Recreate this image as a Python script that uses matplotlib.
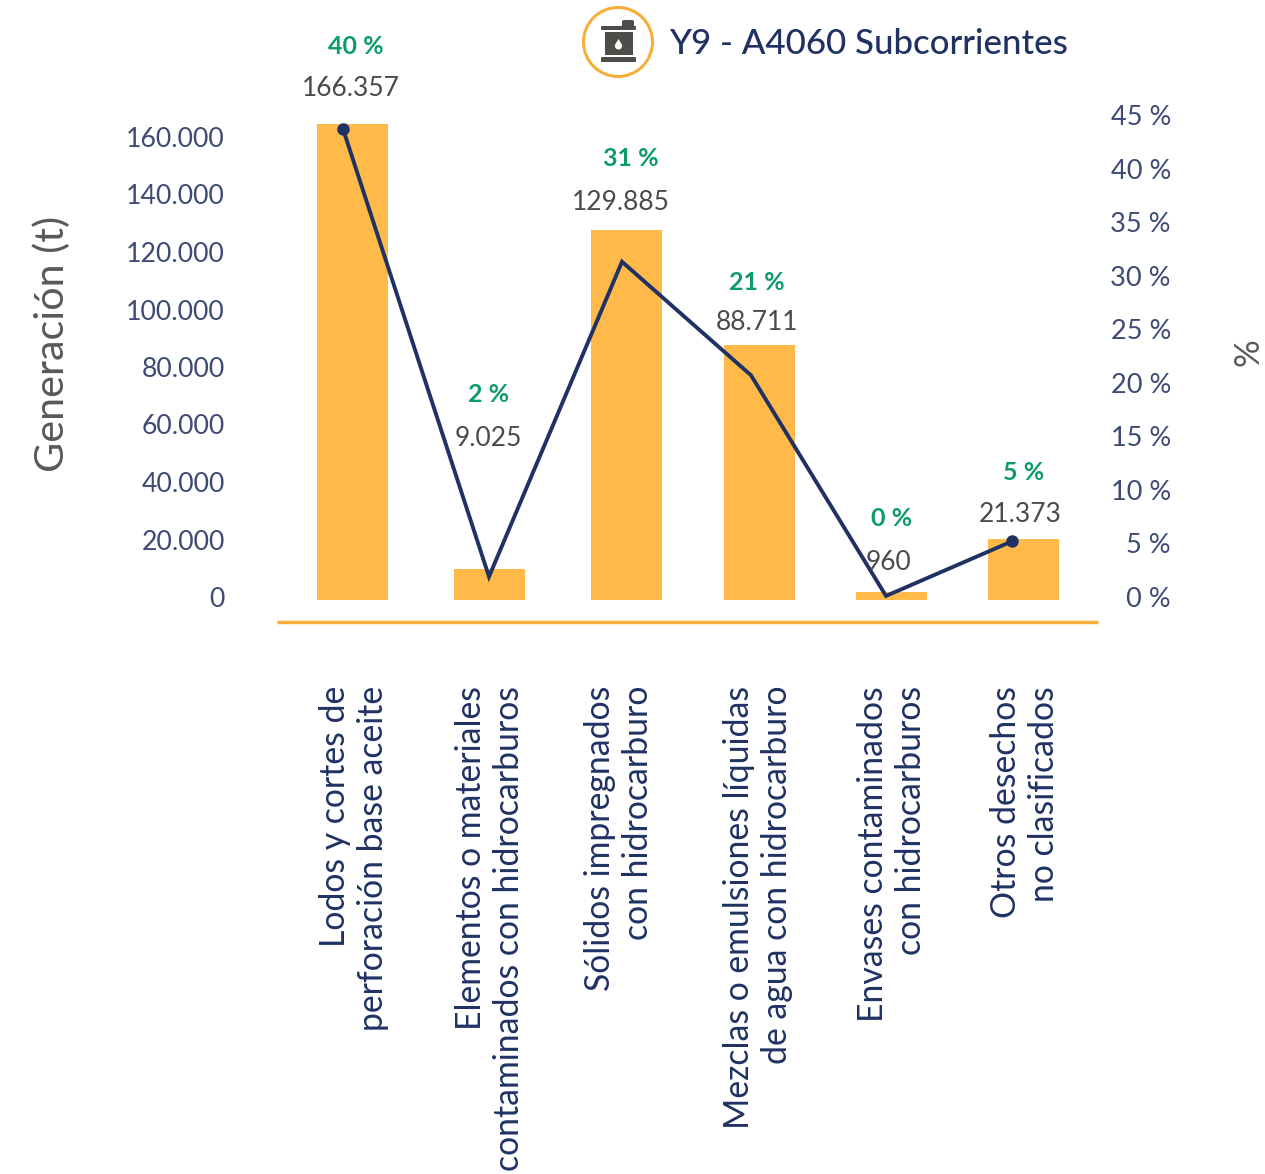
import matplotlib
matplotlib.use("Agg")
import matplotlib.pyplot as plt
from matplotlib.patches import Circle, Rectangle, FancyBboxPatch, Polygon

categories = ["Lodos y cortes de\nperforación base aceite",
              "Elementos o materiales\ncontaminados con hidrocarburos",
              "Sólidos impregnados\ncon hidrocarburo",
              "Mezclas o emulsiones líquidas\nde agua con hidrocarburo",
              "Envases contaminados\ncon hidrocarburos",
              "Otros desechos\nno clasificados"]
bar_values = [165700, 11100, 128700, 89000, 3100, 21373]
value_labels = ["166.357", "9.025", "129.885", "88.711", "960", "21.373"]
pct_labels = ["40 %", "2 %", "31 %", "21 %", "0 %", "5 %"]
line_pct = [43.7, 1.9, 31.3, 20.7, 0.1, 5.2]
left_ticks = [0, 20000, 40000, 60000, 80000, 100000, 120000, 140000, 160000]
left_tick_labels = ["0", "20.000", "40.000", "60.000", "80.000", "100.000", "120.000", "140.000", "160.000"]
right_ticks = [0, 5, 10, 15, 20, 25, 30, 35, 40, 45]
right_tick_labels = [f"{v} %" for v in right_ticks]

# layout (pixels)
W, H = 1265, 1174
bar_px = [352.5, 489.5, 626.5, 759.5, 891.5, 1023.5]
label_px = [354, 490, 619, 758, 892, 1025]
line_px = [343, 489, 622, 751, 886, 1012]
value_pos = [(351, 89), (488, 438), (621, 202), (757, 323), (888, 562), (1020, 514)]
pct_pos = [(356, 47), (489, 395), (631, 159), (757, 282), (892, 518), (1024, 473)]
AX_L, AX_R, AX_B, AX_T = 277, 1098, 622, 60
Y0 = 597
L_SCALE = 460 / 160000
R_SCALE = 482 / 45
BASE = -1200

NAVY = "#1F3263"
TICK = "#3D4A73"
ORANGE = "#FFBA4A"
RULE = "#F9AE3C"
GREEN = "#0E9B6B"
GRAY = "#4A4A4A"
plt.rcParams["font.family"] = ["Lato", "DejaVu Sans"]

fig = plt.figure(figsize=(W / 100, H / 100), dpi=100)
ax = fig.add_axes([AX_L / W, 1 - AX_B / H, (AX_R - AX_L) / W, (AX_B - AX_T) / H])
ax.set_xlim(AX_L, AX_R)
ax.set_ylim((Y0 - AX_B) / L_SCALE, (Y0 - AX_T) / L_SCALE)
ax.patch.set_alpha(0)
ax.bar(bar_px, bar_values, width=71, bottom=BASE, color=ORANGE, zorder=2)
for s in ["top", "left", "right"]:
    ax.spines[s].set_visible(False)
ax.spines["bottom"].set_color(RULE)
ax.spines["bottom"].set_linewidth(2.5)
ax.spines["bottom"].set_capstyle("butt")
ax.set_yticks(left_ticks, left_tick_labels, fontsize=19.2, color=TICK)
ax.tick_params(axis="y", length=0, pad=37.5)
ax.set_xticks(label_px, categories, rotation=90, fontsize=24.3, color=NAVY,
              multialignment="right", va="top", ha="center", linespacing=1.22)
ax.tick_params(axis="x", length=0, pad=46)

ax2 = ax.twinx()
ax2.set_ylim((Y0 - AX_B) / R_SCALE, (Y0 - AX_T) / R_SCALE)
ax2.patch.set_alpha(0)
for s in ax2.spines.values():
    s.set_visible(False)
ax2.plot(line_px, line_pct, color=NAVY, lw=2.8, marker="o", ms=8,
         markevery=[0, 5], solid_joinstyle="miter", zorder=5)
ax2.set_yticks(right_ticks, right_tick_labels, fontsize=19.5, color=TICK, ha="right")
ax2.tick_params(axis="y", length=0, pad=52.5)

def txt(x, y, s, **kw):
    fig.text(x / W, 1 - y / H, s, ha="center", va="center", **kw)

for (x, y), s in zip(value_pos, value_labels):
    txt(x, y, s, fontsize=19, color=GRAY)
for (x, y), s in zip(pct_pos, pct_labels):
    txt(x, y, s, fontsize=18, color=GREEN, fontweight="bold")
txt(52, 344, "Generación (t)", fontsize=29.7, color="#595959", rotation=90)
txt(1248, 352, "%", fontsize=25, color="#595959", rotation=90)
fig.text(669 / W, 1 - 44 / H, "Y9 - A4060 Subcorrientes", fontsize=25.1, color=NAVY,
         fontweight="medium", ha="left", va="center")

# icon in pixel coordinates
ov = fig.add_axes([0, 0, 1, 1], zorder=10)
ov.set_xlim(0, W)
ov.set_ylim(H, 0)
ov.axis("off")
ov.add_patch(Circle((618, 42), 34.5, fc="white", ec="#F9AE3C", lw=2.2))
D = "#4D4D4A"
ov.add_patch(FancyBboxPatch((601, 26), 35, 4, boxstyle="round,pad=0,rounding_size=1", fc=D, ec="none"))
ov.add_patch(FancyBboxPatch((622, 20), 12, 8, boxstyle="round,pad=0,rounding_size=2", fc=D, ec="none"))
ov.add_patch(Rectangle((605, 32), 28, 23, fc=D, ec="none"))
ov.add_patch(FancyBboxPatch((601, 57), 35, 5, boxstyle="round,pad=0,rounding_size=1", fc=D, ec="none"))
ov.add_patch(Circle((618.5, 46), 3.6, fc="white", ec="none"))
ov.add_patch(Polygon([(615.5, 44), (621.5, 44), (618.5, 39)], fc="white", ec="none"))

fig.savefig("out.png", dpi=100)
